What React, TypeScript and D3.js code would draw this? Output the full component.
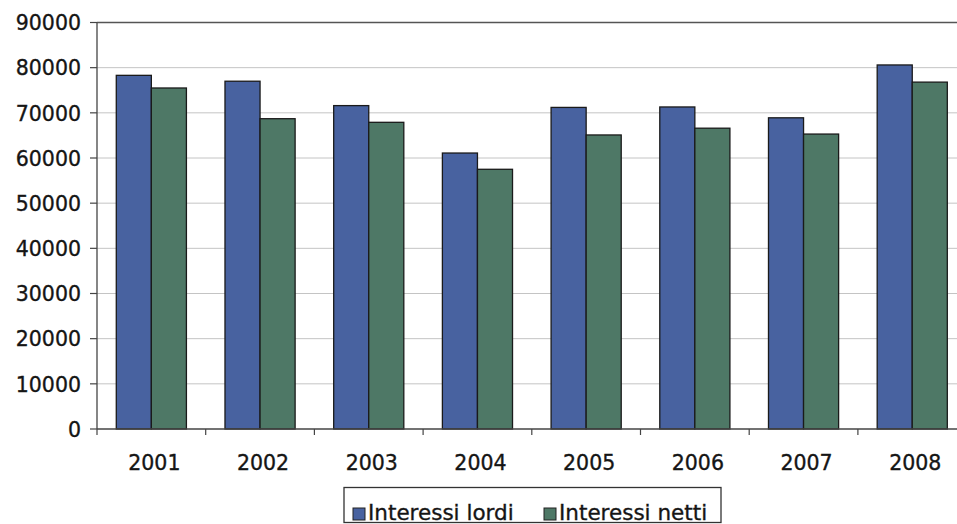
import React from "react";
import * as d3 from "d3";

const years = ["2001", "2002", "2003", "2004", "2005", "2006", "2007", "2008"];
const seriesNames = ["Interessi lordi", "Interessi netti"];
const lordi = [78300, 77000, 71600, 61100, 71200, 71300, 68900, 80600];
const netti = [75500, 68700, 67900, 57500, 65100, 66600, 65300, 76800];
const yTicks = [0, 10000, 20000, 30000, 40000, 50000, 60000, 70000, 80000, 90000];
const colors = ["#4862a0", "#4e7866"];

const W = 957;
const H = 524;
const FONT = "'DejaVu Sans', Verdana, sans-serif";

export default function App() {
  const left = 97;
  const x = d3.scaleBand<string>().domain(years).range([left, left + 8 * 108.7]).padding(0);
  const xs = d3
    .scaleBand<string>()
    .domain(seriesNames)
    .range([0, x.bandwidth()])
    .paddingInner(0)
    .paddingOuter(0.55);
  const y = d3.scaleLinear().domain([0, 90000]).range([429, 22.5]);
  const values = [lordi, netti];
  const boundaries = years.map((yr) => x(yr) as number).concat([x.range()[1]]);
  const textProps = { fill: "#151515", stroke: "#151515", strokeWidth: 0.35 };

  return (
    <svg
      width={W}
      height={H}
      style={{ position: "absolute", left: 0, top: 0, background: "#fff" }}
      fontFamily={FONT}
    >
      <rect x={0} y={0} width={W} height={H} fill="#fff" />
      {yTicks.slice(1).map((t) => (
        <line
          key={"g" + t}
          x1={left}
          x2={W}
          y1={y(t)}
          y2={y(t)}
          stroke={t === 90000 ? "#555" : "#c4c4c4"}
          strokeWidth={t === 90000 ? 1.4 : 1}
        />
      ))}
      {years.map((yr, i) =>
        seriesNames.map((s, j) => {
          const bx = (x(yr) as number) + (xs(s) as number);
          const by = y(values[j][i]);
          return (
            <rect
              key={yr + s}
              x={bx}
              y={by}
              width={xs.bandwidth()}
              height={y(0) - by}
              fill={colors[j]}
              stroke="#1a1a1a"
              strokeWidth={1.3}
            />
          );
        })
      )}
      <line x1={left} x2={left} y1={y(90000)} y2={y(0)} stroke="#444" strokeWidth={1.3} />
      {yTicks.map((t) => (
        <g key={"t" + t}>
          <line x1={left - 7} x2={left} y1={y(t)} y2={y(t)} stroke="#444" strokeWidth={1.2} />
          <text x={81} y={y(t)} dy="0.38em" textAnchor="end" fontSize={20.5} {...textProps}>
            {t}
          </text>
        </g>
      ))}
      <line x1={left} x2={W} y1={y(0)} y2={y(0)} stroke="#444" strokeWidth={1.3} />
      {boundaries.map((b, i) => (
        <line key={"xb" + i} x1={b} x2={b} y1={y(0)} y2={y(0) + 6} stroke="#444" strokeWidth={1.2} />
      ))}
      {years.map((yr) => (
        <text
          key={"xl" + yr}
          x={(x(yr) as number) + x.bandwidth() / 2 + 3}
          y={470}
          textAnchor="middle"
          fontSize={20.5}
          {...textProps}
        >
          {yr}
        </text>
      ))}
      <rect x={344} y={487.5} width={377} height={35} fill="#fff" stroke="#333" strokeWidth={1.3} />
      {seriesNames.map((s, j) => {
        const lx = j === 0 ? 353 : 544;
        return (
          <g key={"lg" + s}>
            <rect x={lx} y={508} width={12} height={12} fill={colors[j]} stroke="#222" strokeWidth={1} />
            <text x={lx + 15} y={520} fontSize={21.5} {...textProps}>
              {s}
            </text>
          </g>
        );
      })}
    </svg>
  );
}
